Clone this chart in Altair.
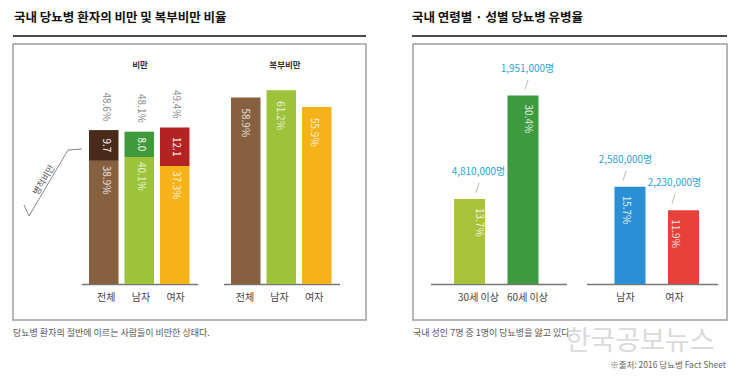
import altair as alt
import pandas as pd

FONT = "Noto Sans CJK KR"

# ---------------- data ----------------
ob_cats = ["전체", "남자", "여자"]
ob_base = [38.9, 40.1, 37.3]          # 비만 (lower segment)
ob_morbid = [9.7, 8.0, 12.1]          # 병적비만 (upper segment)
ob_total_labels = ["48.6%", "48.1%", "49.4%"]
ab_vals = [58.9, 61.2, 55.9]          # 복부비만

base_colors = ["#87603f", "#9dc33b", "#f6b219"]
morbid_colors = ["#4a2a1a", "#3f9a3c", "#b52222"]
ab_colors = ["#87603f", "#9dc33b", "#f6b219"]

age_cats = ["30세 이상", "60세 이상"]
age_rates = [13.7, 30.4]
age_counts = ["4,810,000명", "1,951,000명"]
sex_cats = ["남자", "여자"]
sex_rates = [15.7, 11.9]
sex_counts = ["2,580,000명", "2,230,000명"]
right_colors = ["#a8c23a", "#3d9a3f", "#2b8fd6", "#e8413c"]

left_slots = ["o전체", "o남자", "o여자", "gap", "a전체", "a남자", "a여자"]
right_slots = ["30세 이상", "60세 이상", "gap", "남자", "여자"]

# ---------------- tables ----------------
seg_rows = []
for i, c in enumerate(ob_cats):
    lo, hi = ob_base[i], round(ob_base[i] + ob_morbid[i], 1)
    seg_rows.append(dict(slot="o" + c, lo=0, hi=lo, color=base_colors[i]))
    seg_rows.append(dict(slot="o" + c, lo=lo, hi=hi, color=morbid_colors[i]))
for i, c in enumerate(ob_cats):
    seg_rows.append(dict(slot="a" + c, lo=0, hi=ab_vals[i], color=ab_colors[i]))
seg_df = pd.DataFrame(seg_rows)

ob_df = pd.DataFrame(dict(
    slot=["o" + c for c in ob_cats],
    cat=ob_cats,
    base=ob_base,
    base_lbl=[f"{v}%" for v in ob_base],
    morbid=ob_morbid,
    morbid_lbl=[f"{v}" for v in ob_morbid],
    total=[round(a + b, 1) for a, b in zip(ob_base, ob_morbid)],
    total_lbl=ob_total_labels,
))
ab_df = pd.DataFrame(dict(
    slot=["a" + c for c in ob_cats],
    cat=ob_cats,
    val=ab_vals,
    lbl=[f"{v}%" for v in ab_vals],
))
right_df = pd.DataFrame(dict(
    slot=age_cats + sex_cats,
    cat=age_cats + sex_cats,
    rate=age_rates + sex_rates,
    lbl=[f"{v}%" for v in age_rates + sex_rates],
    count=age_counts + sex_counts,
    color=right_colors,
))

# ---------------- scales ----------------
xL = alt.Scale(domain=left_slots, range=[81, 323.5], paddingInner=0.169, paddingOuter=0)
yL = alt.Scale(domain=[0, 60], range=[276, 86], nice=False, zero=True)
xR = alt.Scale(domain=right_slots, range=[446, 691], paddingInner=0.42, paddingOuter=0)
yR = alt.Scale(domain=[0, 40], range=[276, 28], nice=False, zero=True)

layers = []

# left bars
layers.append(alt.Chart(seg_df).mark_bar().encode(
    x=alt.X("slot:N", scale=xL, axis=None),
    y=alt.Y("lo:Q", scale=yL, axis=None),
    y2="hi:Q",
    color=alt.Color("color:N", scale=None),
))
# totals above obesity bars
layers.append(alt.Chart(ob_df).mark_text(angle=90, align="right", baseline="middle", dx=-9,
                                         fontSize=10, color="#8a8a8a").encode(
    x=alt.X("slot:N", scale=xL, axis=None),
    y=alt.Y("total:Q", scale=yL, axis=None),
    text="total_lbl:N",
))
# morbid labels (centered in upper segment)
layers.append(alt.Chart(ob_df).transform_calculate(mid="(datum.base + datum.total) / 2").mark_text(
    angle=90, align="center", baseline="middle", fontSize=10, color="#ffffff").encode(
    x=alt.X("slot:N", scale=xL, axis=None),
    y=alt.Y("mid:Q", scale=yL, axis=None),
    text="morbid_lbl:N",
))
# base labels
layers.append(alt.Chart(ob_df).mark_text(angle=90, align="left", baseline="middle", dx=5,
                                         fontSize=10, color="#ffffff", opacity=0.8).encode(
    x=alt.X("slot:N", scale=xL, axis=None),
    y=alt.Y("base:Q", scale=yL, axis=None),
    text="base_lbl:N",
))
# abdominal labels
layers.append(alt.Chart(ab_df).mark_text(angle=90, align="left", baseline="middle", dx=11,
                                         fontSize=10, color="#ffffff", opacity=0.8).encode(
    x=alt.X("slot:N", scale=xL, axis=None),
    y=alt.Y("val:Q", scale=yL, axis=None),
    text="lbl:N",
))
# category labels left
cat_left = pd.concat([ob_df[["slot", "cat"]], ab_df[["slot", "cat"]]])
layers.append(alt.Chart(cat_left).mark_text(fontSize=10, color="#444444", baseline="middle").encode(
    x=alt.X("slot:N", scale=xL, axis=None),
    y=alt.value(290),
    text="cat:N",
))

# right bars
layers.append(alt.Chart(right_df).mark_bar().encode(
    x=alt.X("slot:N", scale=xR, axis=None),
    y=alt.Y("rate:Q", scale=yR, axis=None),
    y2=alt.datum(0),
    color=alt.Color("color:N", scale=None),
))
layers.append(alt.Chart(right_df).mark_text(angle=90, align="left", baseline="middle", dx=9,
                                            fontSize=10, color="#ffffff", opacity=0.85).encode(
    x=alt.X("slot:N", scale=xR, axis=None),
    y=alt.Y("rate:Q", scale=yR, axis=None),
    text="lbl:N",
))
layers.append(alt.Chart(right_df).mark_text(baseline="middle", dy=-27, fontSize=10,
                                            color="#2ea3d9").encode(
    x=alt.X("slot:N", scale=xR, axis=None),
    y=alt.Y("rate:Q", scale=yR, axis=None),
    text="count:N",
))
layers.append(alt.Chart(right_df).mark_text(baseline="middle", dy=-11, dx=-1, fontSize=10,
                                            color="#999999").encode(
    x=alt.X("slot:N", scale=xR, axis=None),
    y=alt.Y("rate:Q", scale=yR, axis=None),
    text=alt.value("/"),
))
layers.append(alt.Chart(right_df).mark_text(fontSize=10, color="#444444", baseline="middle").encode(
    x=alt.X("slot:N", scale=xR, axis=None),
    y=alt.value(290),
    text="cat:N",
))

# ---------------- decorations ----------------
one = alt.Chart(pd.DataFrame({"d": [0]}))

def rule(x1, y1, x2, y2, color="#777777", w=1.5):
    return one.mark_rule(color=color, strokeWidth=w).encode(
        x=alt.value(x1), x2=alt.value(x2), y=alt.value(y1), y2=alt.value(y2))

def box(x1, y1, x2, y2):
    return one.mark_rect(fillOpacity=0, stroke="#a0a0a0", strokeWidth=1.5).encode(
        x=alt.value(x1), x2=alt.value(x2), y=alt.value(y1), y2=alt.value(y2))

def label(txt, x, y, size=9, color="#555555", align="left", weight="normal", angle=0, opacity=1.0):
    kw = dict(fontSize=size, color=color, align=align, baseline="middle",
              fontWeight=weight, opacity=opacity)
    if angle:
        kw["angle"] = angle
    return one.mark_text(**kw).encode(x=alt.value(x), y=alt.value(y), text=alt.value(txt))

deco = [
    box(5, 36, 358, 312),
    box(405, 36, 719, 312),
    rule(5, 28, 358, 28, color="#111111", w=1.5),
    rule(404, 28, 719, 28, color="#111111", w=1.5),
    rule(74, 276.5, 190, 276.5),
    rule(216, 276.5, 332, 276.5),
    rule(423, 276.5, 559, 276.5),
    rule(579, 276.5, 710, 276.5),
    rule(16, 197, 21, 208, color="#888888", w=1),
    rule(21, 208, 60, 142, color="#888888", w=1),
    rule(60, 142, 74, 141, color="#888888", w=1),
    label("국내 당뇨병 환자의 비만 및 복부비만 비율", 6, 10, size=12.5, color="#111111", weight="bold"),
    label("국내 연령별 · 성별 당뇨병 유병율", 404, 10, size=12.5, color="#111111", weight="bold"),
    label("비만", 132, 57, size=8.5, color="#333333", align="center", weight="bold"),
    label("복부비만", 277, 57, size=8.5, color="#333333", align="center", weight="bold"),
    label("병적비만", 36, 172, size=9, color="#555555", align="center", angle=301),
    label("당뇨병 환자의 절반에 이르는 사람들이 비만한 상태다.", 5, 325, size=9, color="#555555"),
    label("국내 성인 7명 중 1명이 당뇨병을 앓고 있다.", 405, 325, size=9, color="#555555"),
    label("한국공보뉴스", 632, 334, size=27, color="#d2d2d2", align="center", opacity=0.8),
    label("※출처: 2016 당뇨병 Fact Sheet", 718, 357, size=8.5, color="#666666", align="right"),
]

chart = alt.layer(*deco, *layers).resolve_scale(x="independent", y="independent").properties(
    width=724, height=365, padding=0, autosize="none", background="white"
).configure_view(stroke=None).configure_text(font=FONT)

chart.save("out.html", embed_options={"renderer": "svg", "actions": False})
